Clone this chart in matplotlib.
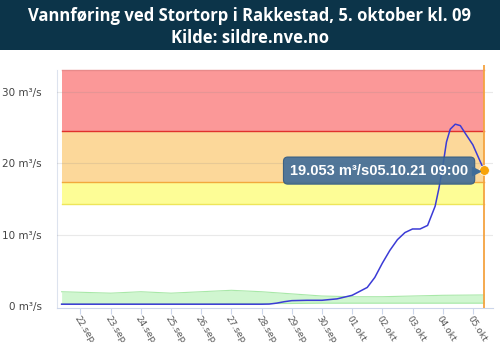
import matplotlib
matplotlib.use("Agg")
import matplotlib.pyplot as plt
import pandas as pd
from matplotlib.patches import Rectangle

# vannføring (m³/s)
flow_t = ["2021-09-21 09:00", "2021-09-22 00:00", "2021-09-24 00:00", "2021-09-26 00:00",
          "2021-09-28 00:00", "2021-09-28 06:00", "2021-09-28 12:00", "2021-09-28 18:00",
          "2021-09-29 00:00", "2021-09-29 12:00", "2021-09-30 00:00", "2021-09-30 12:00",
          "2021-10-01 00:00", "2021-10-01 12:00", "2021-10-01 18:00", "2021-10-02 00:00",
          "2021-10-02 06:00", "2021-10-02 12:00", "2021-10-02 18:00", "2021-10-03 00:00",
          "2021-10-03 06:00", "2021-10-03 12:00", "2021-10-03 18:00", "2021-10-03 21:00",
          "2021-10-04 00:00", "2021-10-04 03:00", "2021-10-04 06:00", "2021-10-04 10:00",
          "2021-10-04 14:00", "2021-10-04 18:00", "2021-10-05 00:00", "2021-10-05 06:00",
          "2021-10-05 09:00"]
flow_v = [0.25, 0.25, 0.25, 0.25,
          0.25, 0.27, 0.4, 0.6,
          0.75, 0.8, 0.8, 1.0,
          1.5, 2.6, 4.0, 6.0,
          7.8, 9.3, 10.3, 10.8,
          10.8, 11.3, 14.0, 16.5,
          19.5, 23.0, 24.8, 25.5,
          25.3, 24.2, 22.6, 20.2,
          19.053]

# normalområde (grønt)
norm_t = ["2021-09-21 09:00", "2021-09-23 00:00", "2021-09-24 00:00", "2021-09-25 00:00",
          "2021-09-26 00:00", "2021-09-27 00:00", "2021-09-28 00:00", "2021-09-29 00:00",
          "2021-09-30 00:00", "2021-10-01 00:00", "2021-10-02 00:00", "2021-10-03 00:00",
          "2021-10-04 00:00", "2021-10-05 09:00"]
norm_low = [0.3, 0.3, 0.3, 0.3, 0.3, 0.35, 0.35, 0.35, 0.4, 0.4, 0.4, 0.4, 0.4, 0.4]
norm_high = [2.0, 1.8, 2.0, 1.8, 2.0, 2.2, 2.0, 1.7, 1.4, 1.3, 1.3, 1.4, 1.5, 1.55]

# flomgrenser
levels = [14.3, 17.4, 24.5, 33.1]
band_colors = ["#fdfd96", "#fcd89a", "#fb9898"]
line_colors = ["#eee65a", "#f2a93b", "#e0302c", "#e88a8a"]

ticks = pd.date_range("2021-09-22", "2021-10-05", freq="D")
tick_labels = [d.strftime("%d.") + ("sep" if d.month == 9 else "okt") for d in ticks]

yticks = [0, 10, 20, 30]

tt = pd.to_datetime(flow_t)
nt = pd.to_datetime(norm_t)

fig = plt.figure(figsize=(5, 3.45), dpi=100)
fig.patch.set_facecolor("white")

# header
fig.patches.append(Rectangle((0, 1 - 50 / 345), 1, 50 / 345, transform=fig.transFigure,
                             facecolor="#0c3449", edgecolor="none", zorder=0))
fig.text(0.5, 1 - 16 / 345, "Vannføring ved Stortorp i Rakkestad, 5. oktober kl. 09",
         ha="center", va="center", color="white", fontsize=12, fontweight="bold",
         family="Open Sans")
fig.text(0.5, 1 - 38 / 345, "Kilde: sildre.nve.no", ha="center", va="center",
         color="white", fontsize=12, fontweight="bold", family="Open Sans")

ax = fig.add_axes([57 / 500, 1 - 307.7 / 345, 436 / 500, 242.7 / 345])

x0, x1 = tt[0], tt[-1]
for i in range(3):
    ax.fill_between([x0, x1], levels[i], levels[i + 1], color=band_colors[i], lw=0, zorder=1)
for lv, c in zip(levels, line_colors):
    ax.plot([x0, x1], [lv, lv], color=c, lw=1, zorder=2)

for y in yticks[1:]:
    ax.axhline(y, color="#888888", alpha=0.18, lw=0.8, zorder=3)

ax.fill_between(nt, norm_low, norm_high, color="#c8f5c8", alpha=0.85, lw=0, zorder=2)
ax.plot(nt, norm_high, color="#a8e8a8", lw=0.8, zorder=2)
ax.plot(nt, norm_low, color="#a8e8a8", lw=0.8, zorder=2)

ax.plot(tt, flow_v, color="#3b3bd6", lw=1.1, zorder=5)

ax.axvline(x1, color="#f4a340", lw=1.3, zorder=4)
ax.plot([x1], [flow_v[-1]], "o", color="#f7a30a", ms=7, zorder=7, mec="white", mew=0.5)

# tooltip (litt gjennomsiktig, linja skimtes bak)
ax.text(0.943, 0.565, "19.053 m³/s05.10.21 09:00", transform=ax.transAxes,
        ha="right", va="center", color="white", fontsize=10.5, fontweight="bold",
        family="Liberation Sans", zorder=8,
        bbox=dict(boxstyle="round,pad=0.45,rounding_size=0.3", fc="#3f6c98", ec="#335a80",
                  lw=0.8, alpha=0.9))
ax.plot([0.96], [0.565], marker=">", color="#3f6c98", ms=6, transform=ax.transAxes, zorder=8,
        clip_on=False)

ax.set_xlim(pd.Timestamp("2021-09-21 05:20"), pd.Timestamp("2021-10-05 16:00"))
ax.set_ylim(-0.24, 33.8)

ax.set_xticks(ticks)
ax.set_xticklabels(tick_labels, rotation=-58, ha="left", va="top", rotation_mode="anchor",
                   fontsize=6.5, color="#555555")
ax.set_yticks(yticks)
ax.set_yticklabels([f"{v} m³/s" for v in yticks], fontsize=7.5, color="#444444")
ax.tick_params(axis="y", length=0, pad=11)
ax.tick_params(axis="x", length=4, color="#ccd6eb", pad=1)

for s in ["top", "right"]:
    ax.spines[s].set_visible(False)
ax.spines["bottom"].set_color("#ccd6eb")
ax.spines["left"].set_color("#dde3ee")
ax.spines["left"].set_bounds(-0.24, 33.1)

fig.savefig("out.png", dpi=100)
